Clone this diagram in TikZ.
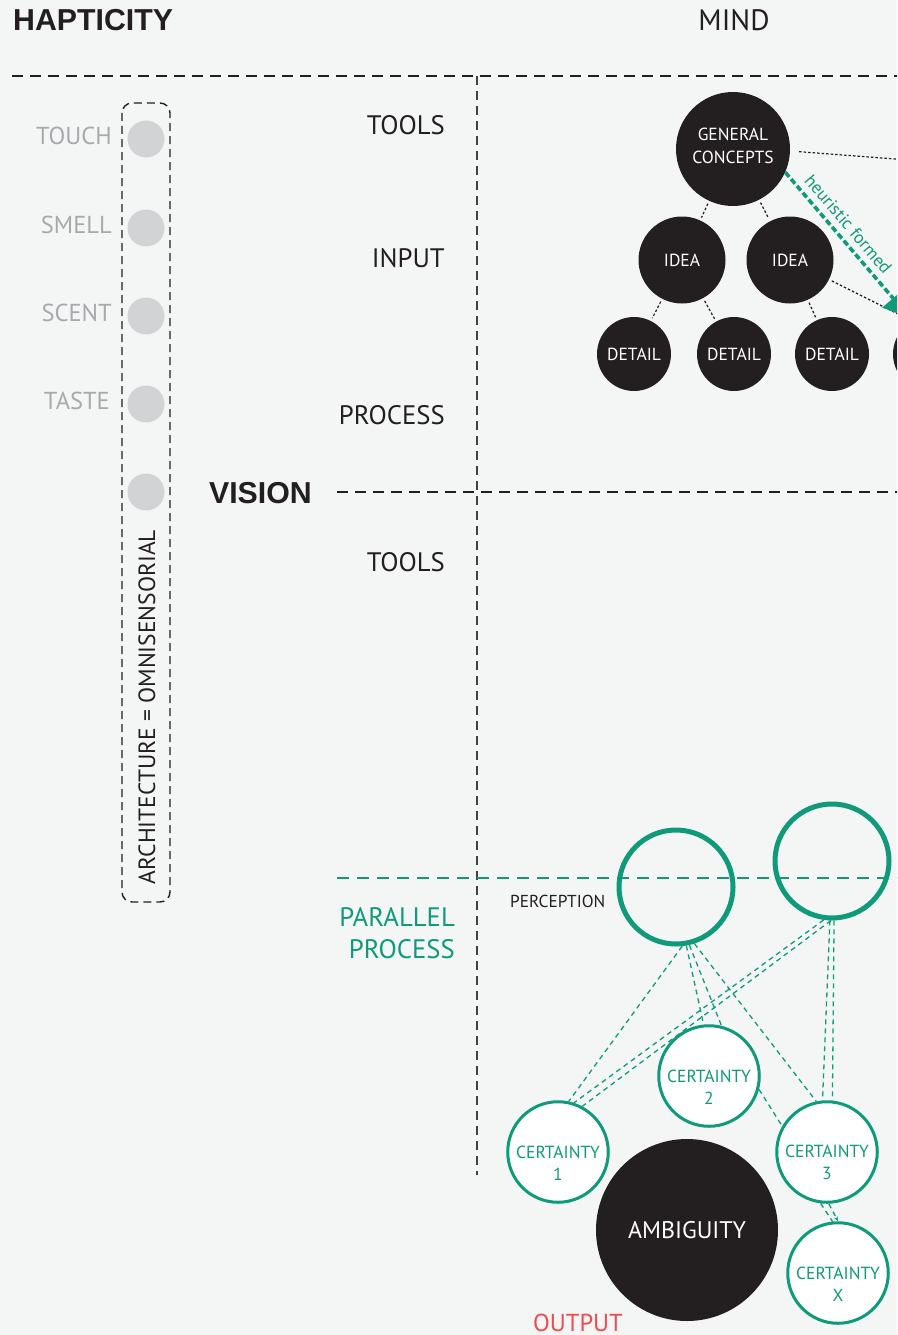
\documentclass[tikz,border=0pt]{standalone}
\usepackage{fontspec}
\setmainfont{PT Sans}
\newfontfamily\boldsans{Liberation Sans}
\usetikzlibrary{arrows.meta}
\definecolor{bgc}{HTML}{F4F6F5}
\definecolor{ink}{HTML}{231F20}
\definecolor{grn}{HTML}{0F9A7A}
\definecolor{lgray}{HTML}{D1D3D4}
\definecolor{tgray}{HTML}{A7A9AC}
\definecolor{outred}{HTML}{EE4B4E}
\begin{document}
\begin{tikzpicture}[x=1pt,y=-1pt,
  lbl/.style={font=\fontsize{26.7}{30}\selectfont, text=ink, anchor=base east, inner sep=0pt},
  glbl/.style={font=\fontsize{26.7}{30}\selectfont, text=grn, anchor=base east, inner sep=0pt},
  sense/.style={font=\fontsize{24.5}{28}\selectfont, text=tgray, anchor=base east, inner sep=0pt},
  headbold/.style={font=\boldsans\bfseries\fontsize{30.3}{32}\selectfont, text=ink, inner sep=0pt},
  bcirc/.style={circle, fill=ink, text=white, inner sep=0pt, align=center, font=\fontsize{17.5}{23}\selectfont},
  cring/.style={circle, draw=grn, line width=3pt, fill=white, text=grn, inner sep=0pt, minimum size=98pt, align=center, font=\fontsize{17.5}{22}\selectfont},
  gring/.style={circle, draw=grn, line width=5pt, inner sep=0pt, minimum size=114pt},
  dotcirc/.style={circle, fill=lgray, inner sep=0pt, minimum size=37pt},
  mainline/.style={draw=ink, line width=2.6pt, dash pattern=on 11pt off 7pt},
  vline/.style={draw=ink!85, line width=1.5pt, dash pattern=on 9pt off 6pt},
  grnline/.style={draw=grn, line width=2.8pt, dash pattern=on 12pt off 8pt},
  dotline/.style={draw=ink, line width=1.2pt, dash pattern=on 2.5pt off 2pt},
  gdash/.style={draw=grn, line width=1.3pt, dash pattern=on 5pt off 4pt},
  harrow/.style={draw=grn, line width=3.6pt, dash pattern=on 6pt off 3pt, -{Triangle[length=26pt,width=28pt]}},
  boxline/.style={draw=ink, line width=1.4pt, dash pattern=on 8pt off 5pt, rounded corners=10pt}
]
\useasboundingbox (0,0) rectangle (897,1335);
\clip (0,0) rectangle (897,1335);
\fill[bgc] (0,0) rectangle (897,1335);

% headings
\node[headbold, anchor=base west] (hapt) at (13,31) {HAPTICITY};
\node[lbl, anchor=base, font=\fontsize{29.5}{32}\selectfont] (mind) at (734,31) {MIND};
\node[headbold, anchor=base east] (vision) at (312,503) {VISION};

% structural lines
\coordinate (topL) at (12,76);
\coordinate (topR) at (905,76);
\draw[mainline] (topL) -- (topR);
\coordinate (visL) at (337,492);
\coordinate (visR) at (905,492);
\draw[mainline, line width=2.4pt] (visL) -- (visR);
\coordinate (vT) at (477,76);
\coordinate (vB) at (477,1175);
\draw[vline] (vT) -- (vB);
\coordinate (grL) at (337,878);
\coordinate (grR) at (905,878);
\draw[grnline] (grL) -- (grR);

% left column
\coordinate (boxA) at (122,103);
\coordinate (boxB) at (170,902);
\draw[boxline] (boxA) rectangle (boxB);
\node[dotcirc] (s1) at (146,139) {};
\node[dotcirc] (s2) at (146,228) {};
\node[dotcirc] (s3) at (146,316) {};
\node[dotcirc] (s4) at (146,404) {};
\node[dotcirc] (s5) at (146,492) {};
\node[sense] (touch) at (112,145) {TOUCH};
\node[sense] (smell) at (112,233) {SMELL};
\node[sense] (scent) at (112,321) {SCENT};
\node[sense] (taste) at (110,409) {TASTE};
\node[rotate=90, font=\fontsize{23.5}{26}\selectfont, text=ink, inner sep=0pt] (omni) at (147,707) {ARCHITECTURE = OMNISENSORIAL};

% row labels
\node[lbl] (tools1) at (445,135) {TOOLS};
\node[lbl] (input) at (445,267) {INPUT};
\node[lbl] (process) at (445,424) {PROCESS};
\node[lbl] (tools2) at (445,571) {TOOLS};
\node[glbl] (par1) at (455,926) {PARALLEL};
\node[glbl] (par2) at (455,958) {PROCESS};

% mind tree
\node[bcirc, minimum size=114pt] (gc) at (733,149) {GENERAL\\CONCEPTS\\[-17pt]\mbox{}};
\node[bcirc, minimum size=87pt] (idea1) at (682,260) {IDEA};
\node[bcirc, minimum size=87pt] (idea2) at (790,260) {IDEA};
\node[bcirc, minimum size=74pt] (d1) at (634,354) {DETAIL};
\node[bcirc, minimum size=74pt] (d2) at (734,354) {DETAIL};
\node[bcirc, minimum size=74pt] (d3) at (832,354) {DETAIL};
\node[bcirc, minimum size=74pt] (d4) at (930,354) {DETAIL};
\coordinate (offA) at (1000,167);
\coordinate (offB) at (1000,365);
\coordinate (hend) at (910,318);
\draw[dotline, shorten <=3pt, shorten >=3pt] (gc) -- (idea1);
\draw[dotline, shorten <=3pt, shorten >=3pt] (gc) -- (idea2);
\draw[dotline, shorten <=3pt, shorten >=3pt] (idea1) -- (d1);
\draw[dotline, shorten <=3pt, shorten >=3pt] (idea1) -- (d2);
\draw[dotline, shorten <=3pt, shorten >=3pt] (idea2) -- (d3);
\draw[dotline, shorten <=3pt] (idea2) -- (offB);
\draw[dotline, shorten <=9pt] (gc.-2) -- (offA);
\draw[harrow] (gc.-24) -- (hend) node[pos=0.42, sloped, above=6pt, inner sep=0pt, text=grn, font=\fontsize{17.6}{20}\selectfont] (heur) {heuristic formed};

% perception / certainty
\node[gring] (p1) at (676,887) {};
\node[gring] (p2) at (832,861) {};
\node[font=\fontsize{17.3}{20}\selectfont, text=ink, anchor=base west, inner sep=0pt] (perc) at (510,907) {PERCEPTION};

\node[cring] (c1) at (558,1152) {\rule{0pt}{12pt}\\CERTAINTY\\1};
\node[cring] (c2) at (709,1076) {\rule{0pt}{12pt}\\CERTAINTY\\2};
\node[cring] (c3) at (827,1152) {\rule{0pt}{12pt}\\CERTAINTY\\3};
\node[cring] (cx) at (838,1273) {\rule{0pt}{12pt}\\CERTAINTY\\X};
\node[bcirc, minimum size=182pt, font=\fontsize{24}{26}\selectfont] (amb) at (687,1230) {AMBIGUITY};
\node[font=\fontsize{24.5}{28}\selectfont, text=outred, anchor=base west, inner sep=0pt] (out) at (533,1331) {OUTPUT};

\draw[gdash] (p1.-84) -- (c1.78);
\draw[gdash] (p1.-80) -- (c2.96);
\draw[gdash] (p1.-77) -- (c2.76);
\draw[gdash] (p1.-72) -- (c3.102);
\draw[gdash] (p2.-98) -- (c1.72);
\draw[gdash] (p2.-91) -- (c1.62);
\draw[gdash] (p2.-92) -- (c3.95);
\draw[gdash] (p2.-88) -- (c3.84);
\draw[gdash] (c2.-15) -- (c3.150);
\draw[gdash] (c3.-97) -- (cx.96);
\draw[gdash, -{Stealth[length=5pt,width=4pt]}] (c3.-88) -- (cx.90);
\end{tikzpicture}
\end{document}
